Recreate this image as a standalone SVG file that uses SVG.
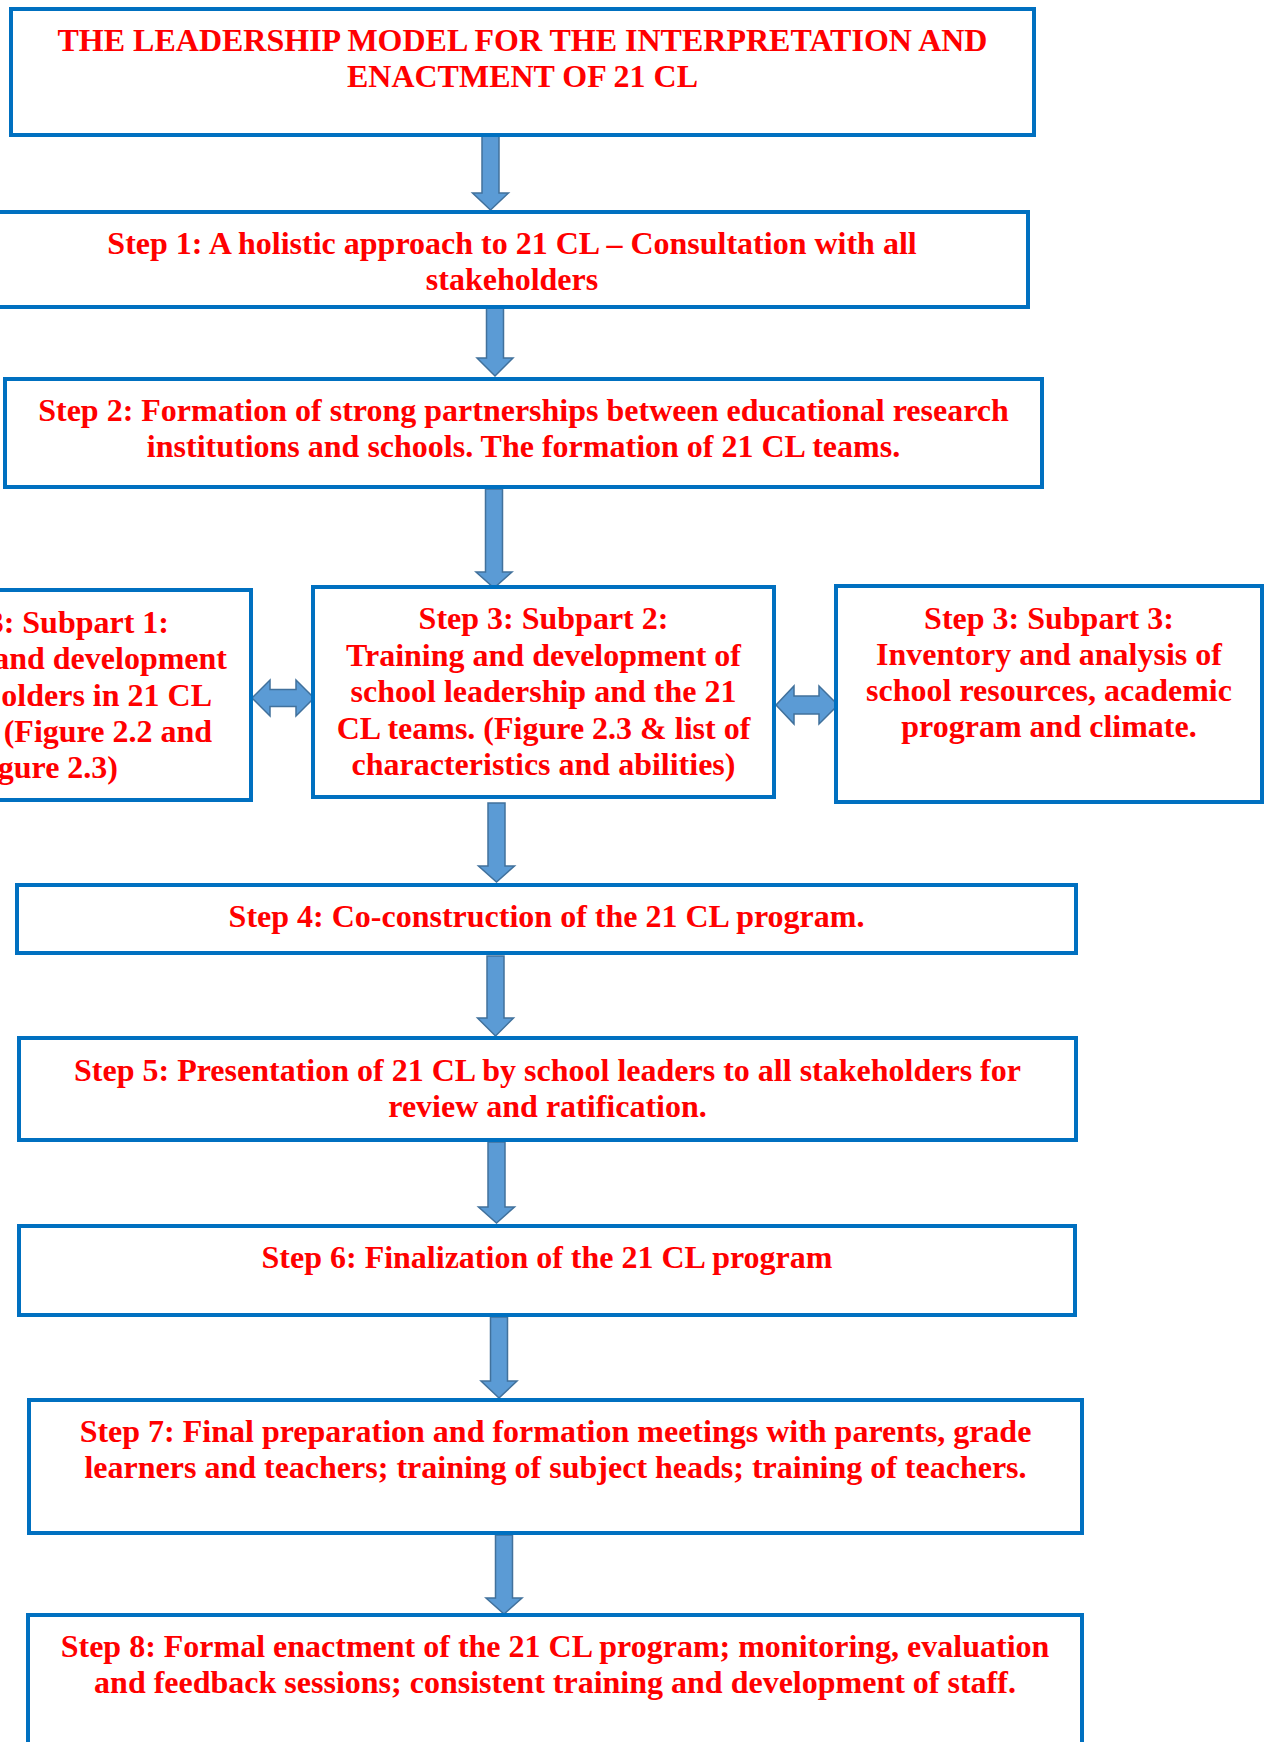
<svg xmlns="http://www.w3.org/2000/svg" width="1265" height="1742" viewBox="0 0 1265 1742">
<style>
.box{fill:#FFFFFF;stroke:#0070C0;stroke-width:4}
.t{font-family:"Liberation Serif","Times New Roman",serif;font-weight:bold;font-size:32px;fill:#FF0000;text-anchor:middle}
.te{text-anchor:end}
.arr{fill:#5B9BD5;stroke:#41719C;stroke-width:1.5;stroke-linejoin:miter}
</style>
<rect width="1265" height="1742" fill="#FFFFFF"/>
<g id="connectors">
<path class="arr" d="M482,136 H499 V193 H508.5 L490.5,210 L472.5,193 H482 Z"/>
<path class="arr" d="M486.5,296 H503.5 V358 H513 L495,376 L477,358 H486.5 Z"/>
<path class="arr" d="M485.5,489 H502.5 V572 H512 L494,588 L476,572 H485.5 Z"/>
<path class="arr" d="M488,803 H505 V866 H514.5 L496.5,882 L478.5,866 H488 Z"/>
<path class="arr" d="M487,956 H504 V1018 H513.5 L495.5,1036 L477.5,1018 H487 Z"/>
<path class="arr" d="M488,1142 H505 V1207 H514.5 L496.5,1223 L478.5,1207 H488 Z"/>
<path class="arr" d="M490.5,1317 H507.5 V1381 H517 L499,1398 L481,1381 H490.5 Z"/>
<path class="arr" d="M495.5,1535 H512.5 V1598 H522 L504,1614 L486,1598 H495.5 Z"/>
<path class="arr" d="M252,698 L270,680 V689.5 H296 V680 L314,698 L296,716 V706.5 H270 V716 Z"/>
<path class="arr" d="M776,705 L794,686 V696 H819 V686 L838,705 L819,724 V714 H794 V724 Z"/>
</g>
<g id="title">
<rect class="box" x="11" y="9" width="1023" height="126"/>
<text class="t" x="522.5" y="51">THE LEADERSHIP MODEL FOR THE INTERPRETATION AND</text>
<text class="t" x="522.5" y="87">ENACTMENT OF 21 CL</text>
</g>
<g id="step1">
<rect class="box" x="-4" y="212" width="1032" height="95"/>
<text class="t" x="512" y="254">Step 1: A holistic approach to 21 CL – Consultation with all</text>
<text class="t" x="512" y="290">stakeholders</text>
</g>
<g id="step2">
<rect class="box" x="5" y="379" width="1037" height="108"/>
<text class="t" x="523.5" y="421">Step 2: Formation of strong partnerships between educational research</text>
<text class="t" x="523.5" y="457">institutions and schools. The formation of 21 CL teams.</text>
</g>
<g id="step3-sub1">
<rect class="box" x="-200" y="590" width="451" height="210"/>
<text class="t te" x="169" y="633">3: Subpart 1:</text>
<text class="t te" x="227" y="669">and development</text>
<text class="t te" x="212" y="706">olders in 21 CL</text>
<text class="t te" x="212" y="742">(Figure 2.2 and</text>
<text class="t te" x="118" y="778">gure 2.3)</text>
</g>
<g id="step3-sub2">
<rect class="box" x="313" y="587" width="461" height="210"/>
<text class="t" x="543.5" y="629">Step 3: Subpart 2:</text>
<text class="t" x="543.5" y="666">Training and development of</text>
<text class="t" x="543.5" y="702">school leadership and the 21</text>
<text class="t" x="543.5" y="739">CL teams. (Figure 2.3 &amp; list of</text>
<text class="t" x="543.5" y="775">characteristics and abilities)</text>
</g>
<g id="step3-sub3">
<rect class="box" x="836" y="586" width="426" height="216"/>
<text class="t" x="1049" y="629">Step 3: Subpart 3:</text>
<text class="t" x="1049" y="665">Inventory and analysis of</text>
<text class="t" x="1049" y="701">school resources, academic</text>
<text class="t" x="1049" y="737">program and climate.</text>
</g>
<g id="step4">
<rect class="box" x="17" y="885" width="1059" height="68"/>
<text class="t" x="546.5" y="927">Step 4: Co-construction of the 21 CL program.</text>
</g>
<g id="step5">
<rect class="box" x="19" y="1038" width="1057" height="102"/>
<text class="t" x="547.5" y="1081">Step 5: Presentation of 21 CL by school leaders to all stakeholders for</text>
<text class="t" x="547.5" y="1117">review and ratification.</text>
</g>
<g id="step6">
<rect class="box" x="19" y="1226" width="1056" height="89"/>
<text class="t" x="547" y="1268">Step 6: Finalization of the 21 CL program</text>
</g>
<g id="step7">
<rect class="box" x="29" y="1400" width="1053" height="133"/>
<text class="t" x="555.5" y="1442">Step 7: Final preparation and formation meetings with parents, grade</text>
<text class="t" x="555.5" y="1478">learners and teachers; training of subject heads; training of teachers.</text>
</g>
<g id="step8">
<rect class="box" x="28" y="1615" width="1054" height="160"/>
<text class="t" x="555" y="1657">Step 8: Formal enactment of the 21 CL program; monitoring, evaluation</text>
<text class="t" x="555" y="1693">and feedback sessions; consistent training and development of staff.</text>
</g>
</svg>
